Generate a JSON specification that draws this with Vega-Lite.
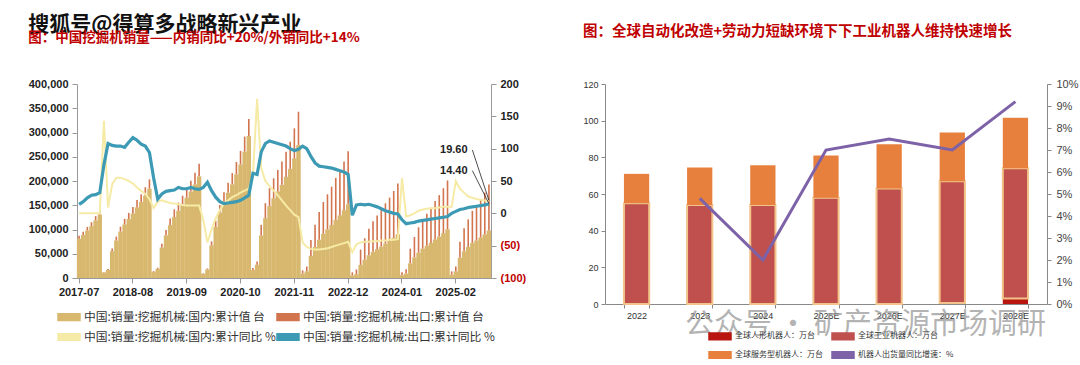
{
  "$schema": "https://vega.github.io/schema/vega-lite/v6.json",
  "background": "white",
  "padding": {"left": 28, "top": 13, "right": 3, "bottom": 5},
  "autosize": {"type": "pad"},
  "bounds": "flush",
  "spacing": 114,
  "resolve": {"scale": {"color": "independent"}},
  "config": {"view": {"stroke": null}, "axis": {"grid": false, "labelOverlap": false}, "axisRight": {"labelOverlap": false}, "font": "Liberation Sans"},
  "hconcat": [
    {
      "width": 414,
      "height": 194,
      "title": {
        "text": "搜狐号@得算多战略新兴产业",
        "subtitle": "图：中国挖掘机销量——内销同比+20%/外销同比+14%",
        "anchor": "start",
        "frame": "bounds",
        "font": "Noto Sans CJK SC",
        "fontSize": 21,
        "fontWeight": "bold",
        "color": "#111111",
        "subtitleFont": "Noto Sans CJK SC",
        "subtitleFontSize": 13.5,
        "subtitleFontWeight": "bold",
        "subtitleColor": "#C00000",
        "subtitlePadding": -4,
        "offset": 34
      },
      "data": {
        "values": [
          {"m":"2017-07","dom":81000,"exp":6000,"dy":0,"ey":14},
          {"m":"2017-08","dom":88800,"exp":6600,"dy":0,"ey":18},
          {"m":"2017-09","dom":98000,"exp":7300,"dy":0,"ey":24},
          {"m":"2017-10","dom":107100,"exp":8000,"dy":0,"ey":28},
          {"m":"2017-11","dom":118800,"exp":8800,"dy":0,"ey":29},
          {"m":"2017-12","dom":130600,"exp":9700,"dy":0,"ey":32},
          {"m":"2018-01","dom":11100,"exp":1100,"dy":143,"ey":75},
          {"m":"2018-02","dom":16600,"exp":1700,"dy":9,"ey":108},
          {"m":"2018-03","dom":55300,"exp":5700,"dy":45,"ey":105},
          {"m":"2018-04","dom":77400,"exp":8000,"dy":55,"ey":104},
          {"m":"2018-05","dom":95800,"exp":9900,"dy":55,"ey":104},
          {"m":"2018-06","dom":110600,"exp":11500,"dy":53,"ey":102},
          {"m":"2018-07","dom":121600,"exp":12600,"dy":50,"ey":110},
          {"m":"2018-08","dom":132700,"exp":13800,"dy":46,"ey":117},
          {"m":"2018-09","dom":145600,"exp":15100,"dy":40,"ey":113},
          {"m":"2018-10","dom":156700,"exp":16200,"dy":35,"ey":107},
          {"m":"2018-11","dom":169600,"exp":17600,"dy":30,"ey":104},
          {"m":"2018-12","dom":184300,"exp":19100,"dy":22,"ey":94},
          {"m":"2019-01","dom":12600,"exp":1600,"dy":8,"ey":55},
          {"m":"2019-02","dom":18900,"exp":2300,"dy":18,"ey":22},
          {"m":"2019-03","dom":62900,"exp":7800,"dy":20,"ey":30},
          {"m":"2019-04","dom":88000,"exp":11000,"dy":18,"ey":34},
          {"m":"2019-05","dom":109000,"exp":13600,"dy":16,"ey":35},
          {"m":"2019-06","dom":125800,"exp":15700,"dy":15,"ey":36},
          {"m":"2019-07","dom":138300,"exp":17200,"dy":14,"ey":40},
          {"m":"2019-08","dom":150900,"exp":18800,"dy":13,"ey":38},
          {"m":"2019-09","dom":165600,"exp":20600,"dy":12,"ey":38},
          {"m":"2019-10","dom":178200,"exp":22200,"dy":12,"ey":40},
          {"m":"2019-11","dom":192800,"exp":24000,"dy":12,"ey":38},
          {"m":"2019-12","dom":209600,"exp":26100,"dy":12,"ey":37},
          {"m":"2020-01","dom":8800,"exp":1100,"dy":-10,"ey":40},
          {"m":"2020-02","dom":17600,"exp":2100,"dy":-45,"ey":48},
          {"m":"2020-03","dom":67300,"exp":8100,"dy":-25,"ey":35},
          {"m":"2020-04","dom":105300,"exp":12600,"dy":-8,"ey":25},
          {"m":"2020-05","dom":134600,"exp":16100,"dy":5,"ey":18},
          {"m":"2020-06","dom":158000,"exp":18900,"dy":15,"ey":15},
          {"m":"2020-07","dom":175600,"exp":21000,"dy":20,"ey":16},
          {"m":"2020-08","dom":193100,"exp":23100,"dy":25,"ey":17},
          {"m":"2020-09","dom":213600,"exp":25600,"dy":28,"ey":18},
          {"m":"2020-10","dom":234100,"exp":28000,"dy":32,"ey":20},
          {"m":"2020-11","dom":260400,"exp":31200,"dy":35,"ey":24},
          {"m":"2020-12","dom":292600,"exp":35000,"dy":38,"ey":28},
          {"m":"2021-01","dom":16500,"exp":4100,"dy":60,"ey":62},
          {"m":"2021-02","dom":27400,"exp":6800,"dy":177,"ey":60},
          {"m":"2021-03","dom":87800,"exp":21900,"dy":70,"ey":95},
          {"m":"2021-04","dom":123500,"exp":30800,"dy":50,"ey":108},
          {"m":"2021-05","dom":148200,"exp":36900,"dy":42,"ey":112},
          {"m":"2021-06","dom":164600,"exp":41000,"dy":35,"ey":110},
          {"m":"2021-07","dom":178400,"exp":44500,"dy":28,"ey":108},
          {"m":"2021-08","dom":192100,"exp":47900,"dy":20,"ey":106},
          {"m":"2021-09","dom":208500,"exp":52000,"dy":12,"ey":104},
          {"m":"2021-10","dom":225000,"exp":56100,"dy":5,"ey":100},
          {"m":"2021-11","dom":247000,"exp":61600,"dy":-2,"ey":97},
          {"m":"2021-12","dom":274400,"exp":68400,"dy":-6,"ey":99},
          {"m":"2022-01","dom":9100,"exp":6600,"dy":-45,"ey":104},
          {"m":"2022-02","dom":13700,"exp":9900,"dy":-52,"ey":100},
          {"m":"2022-03","dom":45600,"exp":32900,"dy":-55,"ey":88},
          {"m":"2022-04","dom":63800,"exp":46000,"dy":-56,"ey":78},
          {"m":"2022-05","dom":79000,"exp":56900,"dy":-56,"ey":73},
          {"m":"2022-06","dom":91100,"exp":65700,"dy":-55,"ey":72},
          {"m":"2022-07","dom":100300,"exp":72300,"dy":-54,"ey":71},
          {"m":"2022-08","dom":109400,"exp":78800,"dy":-52,"ey":70},
          {"m":"2022-09","dom":120000,"exp":86500,"dy":-50,"ey":68},
          {"m":"2022-10","dom":129100,"exp":93100,"dy":-48,"ey":66},
          {"m":"2022-11","dom":139700,"exp":100700,"dy":-46,"ey":64},
          {"m":"2022-12","dom":151900,"exp":109500,"dy":-44,"ey":60},
          {"m":"2023-01","dom":5400,"exp":6300,"dy":-60,"ey":-3},
          {"m":"2023-02","dom":8100,"exp":9500,"dy":-48,"ey":13},
          {"m":"2023-03","dom":27000,"exp":31500,"dy":-45,"ey":14},
          {"m":"2023-04","dom":37800,"exp":44100,"dy":-44,"ey":13},
          {"m":"2023-05","dom":46800,"exp":54600,"dy":-44,"ey":14},
          {"m":"2023-06","dom":54000,"exp":63000,"dy":-43,"ey":12},
          {"m":"2023-07","dom":59400,"exp":69300,"dy":-43,"ey":10},
          {"m":"2023-08","dom":64800,"exp":75600,"dy":-42,"ey":7},
          {"m":"2023-09","dom":71100,"exp":83000,"dy":-42,"ey":4},
          {"m":"2023-10","dom":76500,"exp":89300,"dy":-41,"ey":2},
          {"m":"2023-11","dom":82800,"exp":96600,"dy":-41,"ey":0},
          {"m":"2023-12","dom":90000,"exp":105000,"dy":-40,"ey":-1},
          {"m":"2024-01","dom":6000,"exp":6000,"dy":55,"ey":-10},
          {"m":"2024-02","dom":9100,"exp":9000,"dy":-5,"ey":-16},
          {"m":"2024-03","dom":30200,"exp":30200,"dy":-3,"ey":-15},
          {"m":"2024-04","dom":42300,"exp":42200,"dy":0,"ey":-14},
          {"m":"2024-05","dom":52300,"exp":52300,"dy":4,"ey":-12},
          {"m":"2024-06","dom":60400,"exp":60300,"dy":6,"ey":-11},
          {"m":"2024-07","dom":66400,"exp":66300,"dy":7,"ey":-10},
          {"m":"2024-08","dom":72400,"exp":72400,"dy":8,"ey":-9},
          {"m":"2024-09","dom":79500,"exp":79400,"dy":8,"ey":-8},
          {"m":"2024-10","dom":85500,"exp":85400,"dy":9,"ey":-7},
          {"m":"2024-11","dom":92600,"exp":92500,"dy":10,"ey":-6},
          {"m":"2024-12","dom":100600,"exp":100500,"dy":10,"ey":-5},
          {"m":"2025-01","dom":6600,"exp":7000,"dy":10,"ey":0},
          {"m":"2025-02","dom":13600,"exp":10300,"dy":50,"ey":3},
          {"m":"2025-03","dom":41700,"exp":33000,"dy":38,"ey":6},
          {"m":"2025-04","dom":55000,"exp":47500,"dy":32,"ey":7},
          {"m":"2025-05","dom":64000,"exp":57000,"dy":26,"ey":9},
          {"m":"2025-06","dom":72500,"exp":66000,"dy":24,"ey":10},
          {"m":"2025-07","dom":77500,"exp":72000,"dy":22,"ey":11},
          {"m":"2025-08","dom":83500,"exp":79000,"dy":21,"ey":12},
          {"m":"2025-09","dom":90000,"exp":86000,"dy":20,"ey":13},
          {"m":"2025-10","dom":98000,"exp":95000,"dy":19.6,"ey":14.4}
        ]
      },
      "layer": [
        {
          "transform": [{"fold": ["dom", "exp"], "as": ["series", "value"]}],
          "mark": {"type": "bar"},
          "encoding": {
            "x": {
              "field": "m", "type": "ordinal",
              "scale": {"paddingInner": 0, "paddingOuter": 0},
              "axis": {
                "values": ["2017-07","2018-08","2019-09","2020-10","2021-11","2022-12","2024-01","2025-02"],
                "labelAngle": 0, "title": null, "labelFontSize": 11, "labelFontWeight": "bold",
                "labelColor": "#222222", "tickSize": 5, "labelPadding": 3, "domainColor": "#999999", "tickColor": "#999999"
              }
            },
            "y": {
              "field": "value", "type": "quantitative", "stack": "zero",
              "scale": {"domain": [0, 400000], "nice": false},
              "axis": {
                "values": [0,50000,100000,150000,200000,250000,300000,350000,400000],
                "labelExpr": "format(datum.value, ',')", "labelOverlap": false,
                "title": null, "labelFontSize": 11, "labelFontWeight": "bold",
                "labelColor": "#222222", "tickSize": 5, "labelPadding": 4, "domainColor": "#999999", "tickColor": "#999999"
              }
            },
            "color": {
              "field": "series", "type": "nominal",
              "scale": {"domain": ["dom", "exp", "domYoy", "expYoy"], "range": ["#D8B86E", "#D2744E", "#F6EBA6", "#3D9AB4"]},
              "legend": {
                "orient": "none", "legendX": -20, "legendY": 221, "direction": "horizontal", "columns": 2, "gridAlign": "all",
                "title": null, "columnPadding": -13, "rowPadding": 1,
                "symbolType": "M-1,-0.3H1V0.3H-1Z", "symbolSize": 484,
                "labelFont": "Noto Sans CJK SC", "labelFontSize": 11.8, "labelColor": "#333333", "labelOffset": 3, "labelLimit": 300,
                "labelExpr": "datum.label === 'dom' ? '中国:销量:挖掘机械:国内:累计值 台' : datum.label === 'exp' ? '中国:销量:挖掘机械:出口:累计值 台' : datum.label === 'domYoy' ? '中国:销量:挖掘机械:国内:累计同比 %' : '中国:销量:挖掘机械:出口:累计同比 %'",
                "encode": {"symbols": {"update": {
                  "fill": {"signal": "datum.value === 'dom' ? '#B5574C' : datum.value === 'exp' ? '#E8803D' : datum.value === 'domYoy' ? '#F6EBA6' : '#3D9AB4'"},
                  "stroke": {"signal": "datum.value === 'dom' ? '#E5C07E' : 'transparent'"},
                  "strokeWidth": {"value": 1.5},
                  "opacity": {"value": 1}
                }}}
              }
            },
            "size": {"field": "series", "type": "nominal", "scale": {"type": "ordinal", "domain": ["dom", "exp"], "range": [4.4, 1.6]}, "legend": null},
            "order": {"field": "series", "sort": "ascending"}
          }
        },
        {
          "layer": [
            {
              "mark": {"type": "line", "strokeWidth": 2},
              "encoding": {
                "x": {"field": "m", "type": "ordinal"},
                "y": {
                  "field": "dy", "type": "quantitative",
                  "scale": {"domain": [-100, 200], "nice": false},
                  "axis": {
                    "orient": "right", "values": [-100,-50,0,50,100,150,200], "title": null, "labelOverlap": false,
                    "labelExpr": "datum.value < 0 ? '(' + (-datum.value) + ')' : '' + datum.value",
                    "labelColor": {"condition": {"test": "datum.value < 0", "value": "#C00000"}, "value": "#222222"},
                    "labelFontSize": 11, "labelFontWeight": "bold", "tickSize": 5, "labelPadding": 4,
                    "domainColor": "#999999", "tickColor": "#999999"
                  }
                },
                "color": {"datum": "domYoy"}
              }
            },
            {
              "mark": {"type": "line", "strokeWidth": 3.2},
              "encoding": {
                "x": {"field": "m", "type": "ordinal"},
                "y": {
                  "field": "ey", "type": "quantitative", "scale": {"domain": [-100, 200], "nice": false},
                  "axis": {
                    "orient": "right", "values": [-100,-50,0,50,100,150,200], "title": null, "labelOverlap": false,
                    "labelExpr": "datum.value < 0 ? '(' + (-datum.value) + ')' : '' + datum.value",
                    "labelColor": {"condition": {"test": "datum.value < 0", "value": "#C00000"}, "value": "#222222"},
                    "labelFontSize": 11, "labelFontWeight": "bold", "tickSize": 5, "labelPadding": 4,
                    "domainColor": "#999999", "tickColor": "#999999"
                  }
                },
                "color": {"datum": "expYoy"}
              }
            },
            {
              "data": {"values": [
                {"m": "2025-06", "m2": "2025-10", "v": 98, "v2": 20},
                {"m": "2025-06", "m2": "2025-10", "v": 66, "v2": 15}
              ]},
              "mark": {"type": "rule", "color": "#222222", "strokeWidth": 0.8},
              "encoding": {
                "x": {"field": "m", "type": "ordinal"},
                "x2": {"field": "m2"},
                "y": {
                  "field": "v", "type": "quantitative", "scale": {"domain": [-100, 200], "nice": false},
                  "axis": {
                    "orient": "right", "values": [-100,-50,0,50,100,150,200], "title": null, "labelOverlap": false,
                    "labelExpr": "datum.value < 0 ? '(' + (-datum.value) + ')' : '' + datum.value",
                    "labelColor": {"condition": {"test": "datum.value < 0", "value": "#C00000"}, "value": "#222222"},
                    "labelFontSize": 11, "labelFontWeight": "bold", "tickSize": 5, "labelPadding": 4,
                    "domainColor": "#999999", "tickColor": "#999999"
                  }
                },
                "y2": {"field": "v2"}
              }
            },
            {
              "data": {"values": [
                {"m": "2025-02", "v": 98, "t": "19.60"},
                {"m": "2025-02", "v": 66, "t": "14.40"}
              ]},
              "mark": {"type": "text", "fontSize": 11, "fontWeight": "bold", "color": "#222222", "dx": -2},
              "encoding": {
                "x": {"field": "m", "type": "ordinal"},
                "y": {
                  "field": "v", "type": "quantitative", "scale": {"domain": [-100, 200], "nice": false},
                  "axis": {
                    "orient": "right", "values": [-100,-50,0,50,100,150,200], "title": null, "labelOverlap": false,
                    "labelExpr": "datum.value < 0 ? '(' + (-datum.value) + ')' : '' + datum.value",
                    "labelColor": {"condition": {"test": "datum.value < 0", "value": "#C00000"}, "value": "#222222"},
                    "labelFontSize": 11, "labelFontWeight": "bold", "tickSize": 5, "labelPadding": 4,
                    "domainColor": "#999999", "tickColor": "#999999"
                  }
                },
                "text": {"field": "t"}
              }
            }
          ]
        }
      ],
      "resolve": {"scale": {"y": "independent"}}
    },
    {
      "width": 442,
      "height": 220,
      "title": {
        "text": "图：全球自动化改造+劳动力短缺环境下下工业机器人维持快速增长",
        "anchor": "start", "frame": "bounds",
        "font": "Noto Sans CJK SC", "fontSize": 14.5, "fontWeight": "bold", "color": "#C00000",
        "offset": 39
      },
      "data": {
        "values": [
          {"year": "2022", "hum": 0, "ind": 55, "serv": 16, "g": null},
          {"year": "2023", "hum": 0, "ind": 54, "serv": 20.4, "g": 4.8},
          {"year": "2024", "hum": 0, "ind": 54, "serv": 21.7, "g": 2.0},
          {"year": "2025E", "hum": 0, "ind": 58, "serv": 23, "g": 7.0},
          {"year": "2026E", "hum": 0, "ind": 63, "serv": 24.1, "g": 7.5},
          {"year": "2027E", "hum": 0.5, "ind": 66.5, "serv": 26.5, "g": 7.0},
          {"year": "2028E", "hum": 3, "ind": 71, "serv": 27.6, "g": 9.2}
        ]
      },
      "layer": [
        {
          "transform": [{"fold": ["hum", "ind", "serv"], "as": ["series", "value"]}],
          "mark": {"type": "bar", "strokeWidth": 2},
          "encoding": {
            "x": {
              "field": "year", "type": "ordinal",
              "scale": {"paddingInner": 0.6, "paddingOuter": 0.3},
              "axis": {
                "labelAngle": 0, "labelFontSize": 9, "labelColor": "#333333", "tickBand": "extent",
                "tickSize": 4, "labelPadding": 3, "domainColor": "#888888", "tickColor": "#888888",
                "title": "公众号 · 矿产资源市场调研", "titleFont": "Noto Sans CJK SC", "titleFontSize": 29,
                "titleFontWeight": "normal", "titleColor": "#9A9A9A", "titleOpacity": 0.75,
                "titleX": 260, "titleY": 20, "titleBaseline": "middle", "titleAlign": "center"
              }
            },
            "y": {
              "field": "value", "type": "quantitative", "stack": "zero",
              "scale": {"domain": [0, 120], "nice": false},
              "axis": {
                "values": [0,20,40,60,80,100,120], "title": null, "labelFontSize": 9, "labelColor": "#333333",
                "tickSize": 4, "labelPadding": 3, "domainColor": "#888888", "tickColor": "#888888"
              }
            },
            "color": {
              "field": "series", "type": "nominal",
              "scale": {"domain": ["hum", "ind", "serv", "g"], "range": ["#B8160E", "#C0504D", "#E8803D", "#7D62A8"]},
              "legend": {
                "orient": "none", "legendX": 103, "legendY": 240, "direction": "horizontal", "columns": 2, "gridAlign": "all",
                "title": null, "columnPadding": -4, "rowPadding": -5,
                "symbolType": "M-1,-0.3H1V0.3H-1Z", "symbolSize": 484,
                "labelFont": "Noto Sans CJK SC", "labelFontSize": 8, "labelColor": "#333333", "labelOffset": 3, "labelLimit": 300,
                "labelExpr": "datum.label === 'hum' ? '全球人形机器人：万台' : datum.label === 'ind' ? '全球工业机器人：万台' : datum.label === 'serv' ? '全球服务型机器人：万台' : '机器人出货量同比增速：%'",
                "encode": {"symbols": {"update": {
                  "fill": {"signal": "datum.value === 'hum' ? '#B8160E' : datum.value === 'ind' ? '#B5574C' : datum.value === 'serv' ? '#E8803D' : '#7D62A8'"},
                  "stroke": {"signal": "datum.value === 'ind' ? '#F2C48A' : 'transparent'"},
                  "strokeWidth": {"value": 2},
                  "opacity": {"value": 1}
                }}}
              }
            },
            "stroke": {"condition": {"test": "datum.series === 'ind'", "value": "#F2C48A"}, "value": "transparent"},
            "order": {"field": "series", "sort": "ascending"}
          }
        },
        {
          "mark": {"type": "line", "strokeWidth": 3},
          "encoding": {
            "x": {"field": "year", "type": "ordinal"},
            "y": {
              "field": "g", "type": "quantitative",
              "scale": {"domain": [0, 10], "nice": false},
              "axis": {
                "orient": "right", "values": [0,1,2,3,4,5,6,7,8,9,10], "title": null, "labelOverlap": false,
                "labelExpr": "datum.value + '%'", "labelFontSize": 11, "labelColor": "#444444",
                "tickSize": 4, "labelPadding": 5, "domainColor": "#888888", "tickColor": "#888888"
              }
            },
            "color": {"datum": "g"}
          }
        }
      ],
      "resolve": {"scale": {"y": "independent"}}
    }
  ]
}
